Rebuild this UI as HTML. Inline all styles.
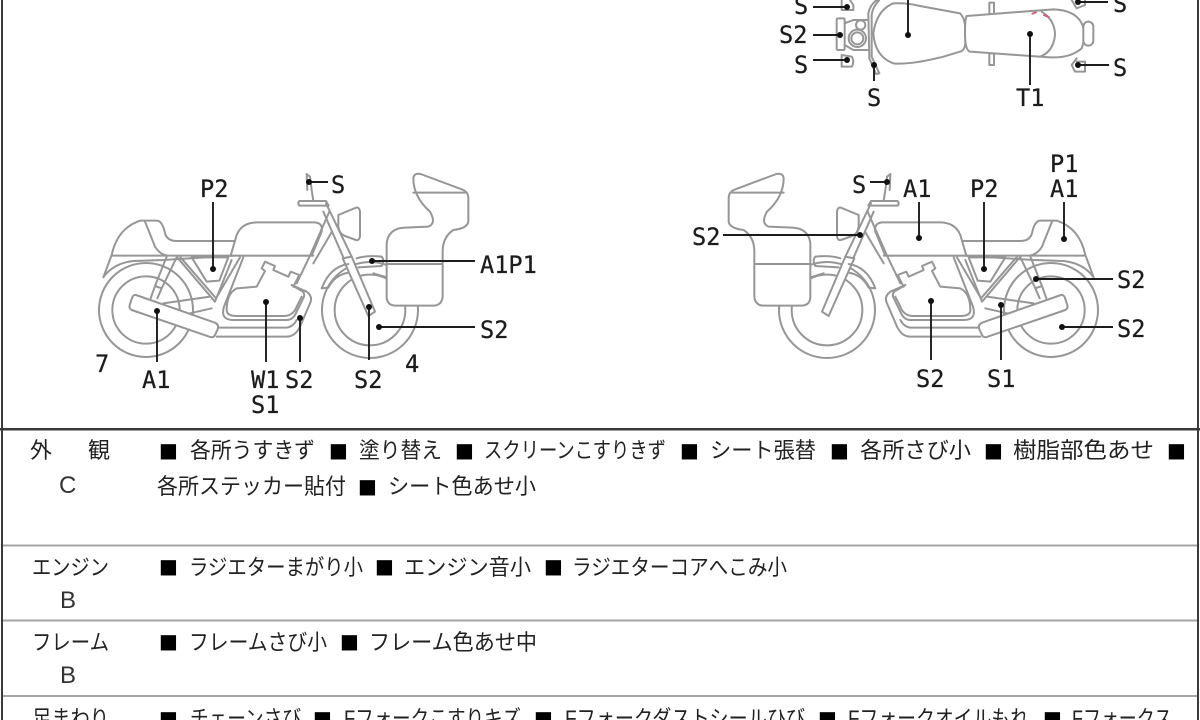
<!DOCTYPE html>
<html lang="ja"><head><meta charset="utf-8"><style>
html,body{margin:0;padding:0;background:#fff;width:1200px;height:720px;overflow:hidden}
svg{display:block;filter:blur(.3px)}
.l{font-family:"DejaVu Sans Mono","Liberation Mono",monospace;font-size:23.6px;fill:#1c1c1c;stroke:#1c1c1c;stroke-width:.25}
.t{font-family:"Liberation Sans","Noto Sans CJK JP",sans-serif;font-size:22px;fill:#222}
.q{font-family:"DejaVu Sans",sans-serif;font-size:20px;fill:#000}
.b{font-family:"Liberation Sans",sans-serif;font-size:24px;fill:#333}
.d{fill:none;stroke:#969696;stroke-width:6;stroke-linejoin:round;stroke-linecap:round}
.w{fill:#fff;stroke:#969696;stroke-width:6;stroke-linejoin:round}
.k{stroke:#1c1c1c;stroke-width:1.9;fill:none}
</style></head><body>
<svg width="1200" height="720" viewBox="0 0 1200 720" xmlns="http://www.w3.org/2000/svg">
<defs>
<g id="bike">
<circle class="d" cx="198" cy="450" r="141"/><circle class="d" cx="198" cy="450" r="101"/>
<circle class="d" cx="870" cy="450" r="144"/><circle class="d" cx="870" cy="450" r="106"/>
<path class="w" d="M70 352L95 285Q112 205 180 182L232 182Q248 185 255 220Q262 243 290 243L465 243L460 287L250 300L160 303Q100 310 70 352Z"/>
<path class="d" d="M195 185L225 260Q240 285 265 287M95 287L700 287"/>
<path class="d" d="M260 290L225 378L245 385L290 292M225 378L212 415M245 385L232 415M250 430L390 410M330 460L395 445"/>
<path class="d" d="M300 290L408 415L480 292M335 292L445 292L418 362L380 365ZM290 290L405 425L455 300"/>
<path class="w" d="M452 287L470 225Q485 188 530 187L705 187Q730 190 725 215L695 287Z"/>
<path class="d" d="M490 292L432 440Q420 480 460 480L620 480Q640 480 650 455L672 410Q675 395 660 390L635 375"/>
<path class="d" d="M545 325L555 305L585 318L580 330L625 350L632 335L658 345L640 380M545 325L555 333L530 380L470 385Q440 400 440 450Q440 468 470 468L610 468Q640 468 650 440L665 410"/>
<path class="d" d="M635 375L680 395Q700 410 690 430L660 500Q645 530 620 530L410 530M415 503L620 503Q640 500 650 480"/>
<path class="w" d="M168 405L405 488Q418 494 413 508L405 525Q400 535 388 530L155 450Q145 445 150 432L156 414Q160 403 168 405Z"/>
<path class="w" d="M775 165L828 143Q838 140 840 155L840 225Q840 242 828 240L795 228Q778 222 775 200Z"/>
<path class="d" d="M748 155L690 287L650 370M756 215L700 310"/>
<path class="d" d="M680 42L690 50L695 90L700 122M680 42L682 90"/>
<path class="w" d="M658 123L738 123L746 137L658 137Q652 130 658 123Z"/>
<path class="d" d="M738 130L815 290M730 155L790 292"/>
<path class="w" d="M788 295L815 290L885 455L865 468Z"/>
<path class="d" d="M725 385Q750 320 805 312M725 385L745 383Q765 345 805 338M830 295Q860 285 905 290Q915 300 905 318L835 322M880 340L920 352"/>
<path class="w" d="M1000 55Q1002 38 1022 42L1145 88Q1165 95 1165 115L1165 185Q1162 205 1120 210Q1090 230 1088 270L1088 410Q1085 437 1060 437L945 437Q920 435 920 410L920 250Q925 205 975 203L1045 200Q1070 190 1050 155Q1000 110 1000 55Z"/>
<path class="d" d="M1000 98L1155 98M920 312L1088 312"/>
</g>
</defs>

<g transform="translate(80,160) scale(.33333)"><use href="#bike"/></g>
<g transform="translate(1197,0) scale(-1,1) translate(80,160) scale(.33333)"><use href="#bike"/></g>

<g transform="translate(770,0) scale(.33333)">
<path class="w" d="M658 8H672V42H658ZM658 160H672V195H658Z"/>
<path class="w" d="M370 10Q320 30 310 100Q315 170 370 190Q420 195 520 170L570 155Q590 150 585 110Q590 60 570 40L450 18Q410 8 370 10Z"/>
<path class="w" d="M590 48L850 28Q915 30 935 70Q950 100 935 145Q900 175 840 172L600 155Q585 150 585 100Q585 55 590 48Z"/>
<path class="d" d="M815 35Q855 60 855 105Q850 155 810 170"/>
<path d="M785 42L800 36M820 44L838 52" stroke="#c8607a" stroke-width="6" fill="none"/>
<rect class="w" x="940" y="65" width="30" height="72" rx="15"/>
<path class="d" d="M905 0L920 25L945 15L945 0M920 175L905 195L915 215H945V185H920"/>
<path class="d" d="M215 0V30H250V15L240 0M215 165V200H245Q255 185 245 170Z"/>
<rect class="w" x="200" y="55" width="24" height="95" rx="4"/>
<path class="d" d="M224 70L250 60H295M224 135L250 150H295"/>
<circle class="w" cx="272" cy="75" r="14"/><circle class="w" cx="262" cy="115" r="26"/><circle class="d" cx="262" cy="115" r="18"/>
<path class="w" d="M295 40Q300 15 320 0L328 0Q308 20 305 45L305 170L328 220L318 222L298 175Z"/>
</g>

<g class="k">
<path d="M813 7H847M813 35H840M813 60H847M874 65V81M908 0V35M1030 34V85M1078 2H1108M1078 65H1109"/>
<path d="M213 202V269M309 182H328M372 261H475M379 327H475M369 307V360M157 311V362M266 302V362M300 318V362"/>
<path d="M870 182H887M723 235H860M919 202V238M984 202V269M1064 202V239M1036 279H1113M1062 327H1113M931 301V360M1001 305V360"/>
</g>
<g fill="#111">
<circle cx="847" cy="7" r="3"/><circle cx="840" cy="35" r="3"/><circle cx="847" cy="60" r="3"/><circle cx="874" cy="65" r="3"/><circle cx="908" cy="35" r="3"/><circle cx="1030" cy="34" r="3"/><circle cx="1078" cy="2" r="3"/><circle cx="1078" cy="65" r="3"/>
<circle cx="213" cy="269" r="3"/><circle cx="309" cy="182" r="3"/><circle cx="372" cy="261" r="3"/><circle cx="379" cy="327" r="3"/><circle cx="369" cy="307" r="3"/><circle cx="157" cy="311" r="3"/><circle cx="266" cy="302" r="3"/><circle cx="300" cy="318" r="3"/>
<circle cx="887" cy="182" r="3"/><circle cx="860" cy="235" r="3"/><circle cx="919" cy="238" r="3"/><circle cx="984" cy="269" r="3"/><circle cx="1064" cy="239" r="3"/><circle cx="1036" cy="279" r="3"/><circle cx="1062" cy="327" r="3"/><circle cx="931" cy="301" r="3"/><circle cx="1001" cy="305" r="3"/>
</g>

<g class="l">
<text x="794" y="14">S</text><text x="779" y="43">S2</text><text x="794" y="73">S</text><text x="867" y="106">S</text><text x="1016" y="106">T1</text><text x="1113" y="12">S</text><text x="1113" y="76">S</text>
<text x="200" y="197">P2</text><text x="331" y="193">S</text><text x="480" y="273">A1P1</text><text x="480" y="338">S2</text><text x="95" y="372">7</text><text x="405" y="372">4</text><text x="142" y="388">A1</text><text x="251" y="388">W1</text><text x="285" y="388">S2</text><text x="251" y="413">S1</text><text x="354" y="388">S2</text>
<text x="1050" y="172">P1</text><text x="1050" y="197">A1</text><text x="970" y="197">P2</text><text x="903" y="197">A1</text><text x="852" y="193">S</text><text x="692" y="245">S2</text><text x="1117" y="288">S2</text><text x="1117" y="337">S2</text><text x="916" y="387">S2</text><text x="987" y="387">S1</text>
</g>

<g fill="#3a3a3a"><rect x="1" y="0" width="2" height="720"/><rect x="1197" y="0" width="2" height="720"/><rect x="0" y="428" width="1200" height="2.5"/></g>
<g fill="#a4a4a4"><rect x="3" y="544.5" width="1194" height="2"/><rect x="3" y="619.5" width="1194" height="2"/><rect x="3" y="695" width="1194" height="2"/></g>

<g class="t">
<text x="30" y="458">外</text><text x="88" y="458">観</text>
<text x="190" y="458" textLength="125" lengthAdjust="spacingAndGlyphs">各所うすきず</text>
<text x="359" y="458" textLength="83" lengthAdjust="spacingAndGlyphs">塗り替え</text>
<text x="484" y="458" textLength="182" lengthAdjust="spacingAndGlyphs">スクリーンこすりきず</text>
<text x="710" y="458" textLength="106" lengthAdjust="spacingAndGlyphs">シート張替</text>
<text x="860" y="458" textLength="111" lengthAdjust="spacingAndGlyphs">各所さび小</text>
<text x="1013" y="458" textLength="141" lengthAdjust="spacingAndGlyphs">樹脂部色あせ</text>
<text x="157" y="494" textLength="189" lengthAdjust="spacingAndGlyphs">各所ステッカー貼付</text>
<text x="388" y="494" textLength="148" lengthAdjust="spacingAndGlyphs">シート色あせ小</text>
<text x="32" y="575" textLength="77" lengthAdjust="spacingAndGlyphs">エンジン</text>
<text x="189" y="575" textLength="174" lengthAdjust="spacingAndGlyphs">ラジエターまがり小</text>
<text x="404" y="575" textLength="127" lengthAdjust="spacingAndGlyphs">エンジン音小</text>
<text x="572" y="575" textLength="215" lengthAdjust="spacingAndGlyphs">ラジエターコアへこみ小</text>
<text x="32" y="650" textLength="77" lengthAdjust="spacingAndGlyphs">フレーム</text>
<text x="189" y="650" textLength="138" lengthAdjust="spacingAndGlyphs">フレームさび小</text>
<text x="369" y="650" textLength="168" lengthAdjust="spacingAndGlyphs">フレーム色あせ中</text>
<text x="32" y="726" textLength="77" lengthAdjust="spacingAndGlyphs">足まわり</text>
<text x="190" y="726" textLength="111" lengthAdjust="spacingAndGlyphs">チェーンさび</text>
<text x="344" y="726" textLength="177" lengthAdjust="spacingAndGlyphs">Fフォークこすりキズ</text>
<text x="565" y="726" textLength="240" lengthAdjust="spacingAndGlyphs">Fフォークダストシールひび</text>
<text x="848" y="726" textLength="181" lengthAdjust="spacingAndGlyphs">Fフォークオイルもれ</text>
<text x="1072" y="726" textLength="100" lengthAdjust="spacingAndGlyphs">Fフォークス</text>
</g>
<g class="b"><text x="59" y="493">C</text><text x="60" y="608">B</text><text x="60" y="683">B</text></g>
<g class="q">
<text x="159" y="457">■</text><text x="329" y="457">■</text><text x="455" y="457">■</text><text x="680" y="457">■</text><text x="830" y="457">■</text><text x="984" y="457">■</text><text x="1167" y="457">■</text>
<text x="358" y="493">■</text>
<text x="159" y="573">■</text><text x="375" y="573">■</text><text x="544" y="573">■</text>
<text x="159" y="648">■</text><text x="340" y="648">■</text>
<text x="159" y="725">■</text><text x="313" y="725">■</text><text x="534" y="725">■</text><text x="818" y="725">■</text><text x="1043" y="725">■</text>
</g>
</svg>
</body></html>
